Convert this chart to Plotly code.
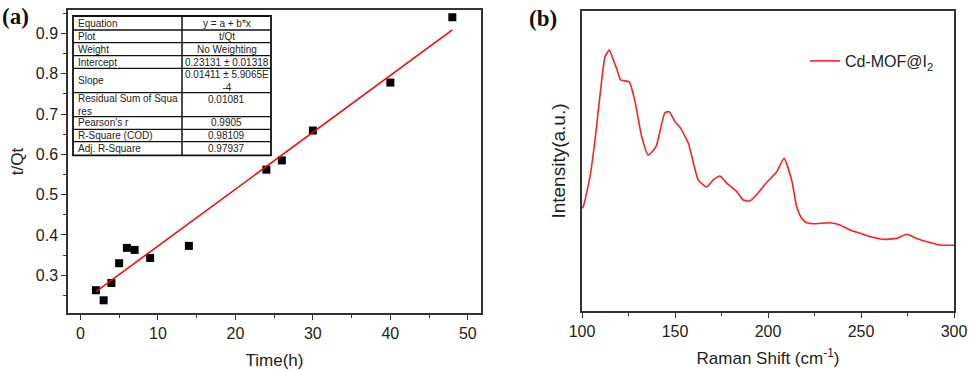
import plotly.graph_objects as go

# (a) kinetics data: t/Qt vs time
time_h = [2, 3, 4, 5, 6, 7, 9, 14, 24, 26, 30, 40, 48]
t_qt = [0.263, 0.238, 0.281, 0.330, 0.368, 0.363, 0.343, 0.373, 0.562, 0.585, 0.659, 0.778, 0.940]

# linear fit results (from the table)
intercept = 0.23131
slope = 0.01411
fit_x = [2, 48]

table_labels = ["Equation", "Plot", "Weight", "Intercept", "Slope",
                "Residual Sum of Squa<br>res", "Pearson's r", "R-Square (COD)", "Adj. R-Square"]
table_values = ["y = a + b*x", "t/Qt", "No Weighting", "0.23131 ± 0.01318",
                "0.01411 ± 5.9065E<br>-4", "0.01081", "0.9905", "0.98109", "0.97937"]

# (b) Raman spectrum
raman_shift = [100, 100.7, 104.3, 107, 110.6, 112.4, 114.7, 116.8, 118.6, 120.8, 125.4, 128.5,
               132.1, 135.6, 139.8, 144.6, 146.9, 150, 152.7, 157.2, 162.5, 167, 170.6, 174.2,
               177.8, 183.2, 186.7, 190.3, 193.5, 198.9, 204.7, 208.6, 212.7, 215.4, 218.1,
               220.8, 225, 233.3, 238.7, 244.1, 249.5, 254.8, 262, 269.2, 274.6, 279.9, 287.1,
               292.5, 300]
intensity = [0.343, 0.348, 0.448, 0.57, 0.77, 0.848, 0.87, 0.837, 0.809, 0.77, 0.764, 0.698,
             0.581, 0.52, 0.548, 0.661, 0.664, 0.631, 0.612, 0.559, 0.437, 0.414, 0.437, 0.45,
             0.426, 0.398, 0.37, 0.367, 0.385, 0.426, 0.464, 0.509, 0.437, 0.348, 0.309,
             0.294, 0.291, 0.294, 0.287, 0.27, 0.259, 0.248, 0.239, 0.242, 0.256, 0.242, 0.228,
             0.22, 0.219]

W, H = 969, 370
FONT = "Liberation Sans, Arial, sans-serif"

fig = go.Figure()

fig.add_trace(go.Scatter(x=time_h, y=t_qt, mode="markers",
                         marker=dict(symbol="square", size=8, color="black"),
                         showlegend=False, xaxis="x", yaxis="y"))
fig.add_trace(go.Scatter(x=fit_x, y=[intercept + slope * v for v in fit_x], mode="lines",
                         line=dict(color="red", width=1.5), showlegend=False,
                         xaxis="x", yaxis="y"))
fig.add_trace(go.Scatter(x=raman_shift, y=intensity, mode="lines",
                         line=dict(color="#ff2020", width=1.6, shape="spline", smoothing=0.5),
                         name="Cd-MOF@I<sub>2</sub>", xaxis="x2", yaxis="y2"))

axis_common = dict(showline=True, linecolor="#333", linewidth=1.5, mirror=True,
                   showgrid=False, zeroline=False, ticks="outside", ticklen=5,
                   tickwidth=1.2, tickcolor="#333", automargin=False,
                   tickfont=dict(family=FONT, size=16, color="#222"),
                   title_font=dict(family=FONT, size=17, color="#222"))

fig.update_layout(
    width=W, height=H,
    margin=dict(l=0, r=0, t=0, b=0),
    paper_bgcolor="white", plot_bgcolor="white",
    xaxis=dict(axis_common, domain=[68 / W, 481 / W], anchor="y", range=[-1.6, 51.7],
               dtick=10, title=dict(text="Time(h)", standoff=13),
               minor=dict(dtick=5, ticks="outside", ticklen=3, tickcolor="#333")),
    yaxis=dict(axis_common, domain=[1 - 313 / H, 1 - 10 / H], anchor="x", range=[0.2065, 0.958],
               dtick=0.1, tick0=0.3, tickformat=".1f", title=dict(text="t/Qt", standoff=8),
               minor=dict(dtick=0.05, tick0=0.25, ticks="outside", ticklen=3, tickcolor="#333")),
    xaxis2=dict(axis_common, domain=[582 / W, 954 / W], anchor="y2", range=[100, 300],
                dtick=50, title=dict(text="Raman Shift (cm<sup>-1</sup>)", standoff=13),
                minor=dict(dtick=25, ticks="outside", ticklen=3, tickcolor="#333")),
    yaxis2=dict(axis_common, domain=[1 - 311 / H, 1 - 11 / H], anchor="x2", range=[0, 1],
                ticks="", showticklabels=False,
                title=dict(text="Intensity(a.u.)", standoff=10, font=dict(size=19))),
    legend=dict(x=805 / W, y=1 - 44 / H, xanchor="left", yanchor="top", itemwidth=30,
                bgcolor="rgba(0,0,0,0)", font=dict(family=FONT, size=16, color="#222")),
)

# panel labels
fig.add_annotation(x=0 / W, y=1 - 2 / H, xref="paper", yref="paper", xanchor="left", yanchor="top",
                   text="<b>(a)</b>", showarrow=False,
                   font=dict(family="Liberation Serif, Times New Roman, serif", size=23, color="#111"))
fig.add_annotation(x=527 / W, y=1 - 4 / H, xref="paper", yref="paper", xanchor="left", yanchor="top",
                   text="<b>(b)</b>", showarrow=False,
                   font=dict(family="Liberation Serif, Times New Roman, serif", size=23, color="#111"))

# fit results table (pixel layout)
tx0, tx1, tdiv = 73, 271, 182
row_edges = [16, 30, 42.7, 55.7, 68.3, 92.7, 116.7, 129.3, 141.7, 155.3]


def px(x):
    return x / W


def py(y):
    return 1 - y / H


fig.add_shape(type="rect", xref="paper", yref="paper", x0=px(tx0), x1=px(tx1),
              y0=py(row_edges[-1]), y1=py(row_edges[0]),
              line=dict(color="#111", width=1.8), fillcolor="white", layer="above")
fig.add_shape(type="line", xref="paper", yref="paper", x0=px(tdiv), x1=px(tdiv),
              y0=py(row_edges[-1]), y1=py(row_edges[0]), line=dict(color="#111", width=1.5))
for e in row_edges[1:-1]:
    fig.add_shape(type="line", xref="paper", yref="paper", x0=px(tx0), x1=px(tx1),
                  y0=py(e), y1=py(e), line=dict(color="#111", width=1.3))

for i, (lab, val) in enumerate(zip(table_labels, table_values)):
    top, bot = row_edges[i], row_edges[i + 1]
    mid = (top + bot) / 2
    fig.add_annotation(x=px(tx0 + 3), y=py(mid), xref="paper", yref="paper",
                       xanchor="left", yanchor="middle", text=lab, showarrow=False, align="left",
                       font=dict(family=FONT, size=10, color="#222"))
    # single-line value in a two-line row sits at the top (Origin style)
    val_top = bot - top > 18 and "<br>" not in val
    fig.add_annotation(x=px((tdiv + tx1) / 2), y=py(top + 6.5 if val_top else mid),
                       xref="paper", yref="paper",
                       xanchor="center", yanchor="middle", text=val, showarrow=False,
                       align="center", font=dict(family=FONT, size=10, color="#222"))

fig.write_html("out.html", config={"displayModeBar": False},
               post_script="document.body.style.margin='0';")
